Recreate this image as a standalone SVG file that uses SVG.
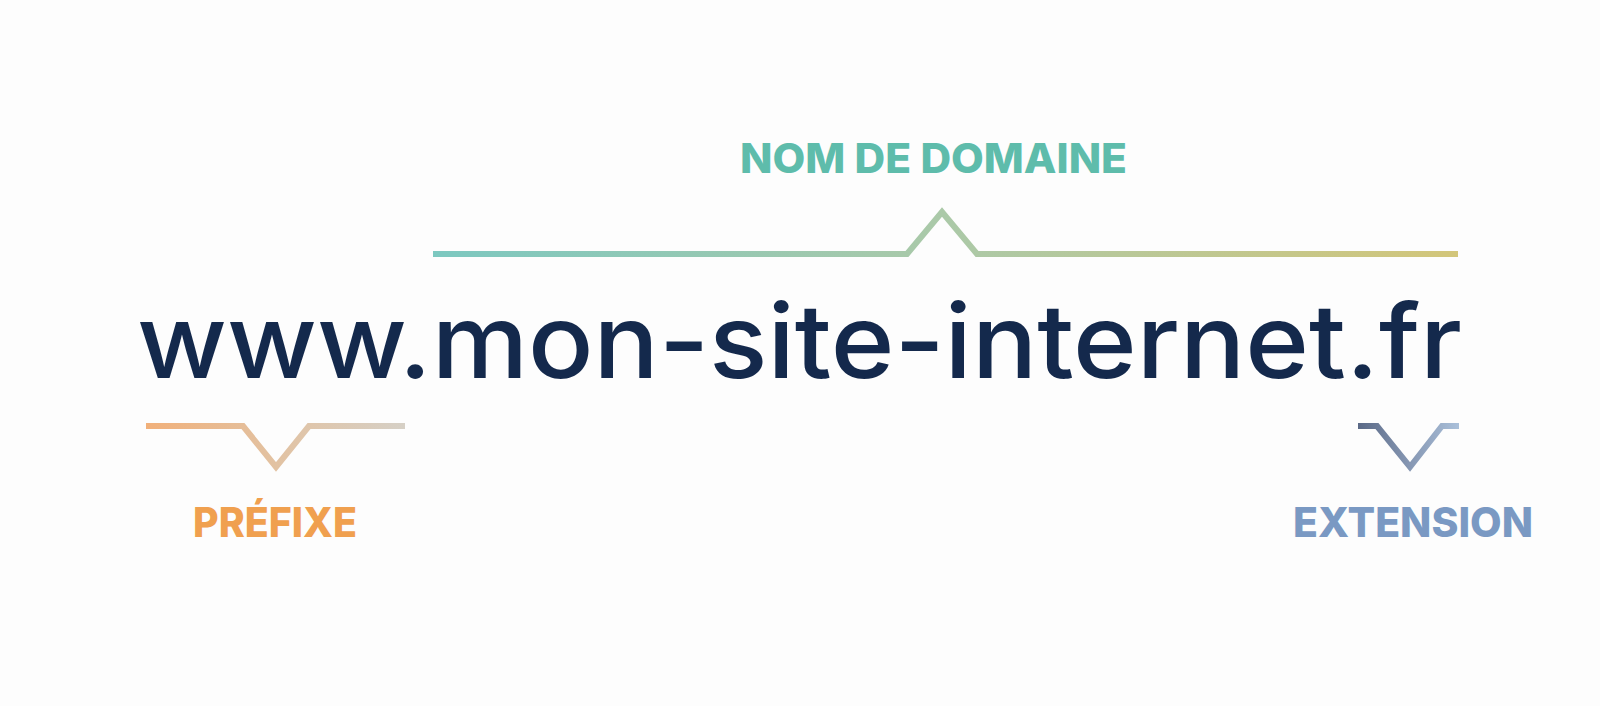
<svg xmlns="http://www.w3.org/2000/svg" width="1600" height="706" viewBox="0 0 1600 706">
  <style>
    .label { font-family: Inter, "Open Sans", "Liberation Sans", sans-serif; font-weight: 800; font-size: 41px; }
    .url { font-family: Inter, "Open Sans", "Liberation Sans", sans-serif; font-weight: 500; font-size: 103px; fill: #14294c; }
    .brace { fill: none; stroke-width: 6; stroke-linejoin: miter; stroke-linecap: butt; }
  </style>
  <defs>
    <linearGradient id="gDomain" gradientUnits="userSpaceOnUse" x1="433" y1="0" x2="1458" y2="0">
      <stop offset="0" stop-color="#7cc8c0"/>
      <stop offset="0.5" stop-color="#abc9a8"/>
      <stop offset="1" stop-color="#d3c67a"/>
    </linearGradient>
    <linearGradient id="gPrefix" gradientUnits="userSpaceOnUse" x1="146" y1="0" x2="405" y2="0">
      <stop offset="0" stop-color="#f1b07a"/>
      <stop offset="0.5" stop-color="#e2c2a2"/>
      <stop offset="1" stop-color="#d6d0c6"/>
    </linearGradient>
    <linearGradient id="gExt" gradientUnits="userSpaceOnUse" x1="1358" y1="0" x2="1459" y2="0">
      <stop offset="0" stop-color="#5a6986"/>
      <stop offset="0.5" stop-color="#8596b2"/>
      <stop offset="1" stop-color="#aac0da"/>
    </linearGradient>
  </defs>
  <rect width="1600" height="706" fill="#fdfdfd"/>

  <g id="connectors">
    <path class="brace" stroke="url(#gDomain)" d="M433 254 H907 L942 212 L977 254 H1458"/>
    <path class="brace" stroke="url(#gPrefix)" d="M146 426 H243 L276 467 L309 426 H405"/>
    <path class="brace" stroke="url(#gExt)" d="M1358 426 H1377 L1410 467 L1442 426 H1459"/>
  </g>

  <g id="url">
    <text class="url" x="137" y="378" textLength="1325" lengthAdjust="spacingAndGlyphs">www.mon-site-internet.fr</text>
  </g>

  <g id="nom-de-domaine">
    <text class="label" x="740" y="173" fill="#5ebcab" textLength="387" lengthAdjust="spacingAndGlyphs">NOM DE DOMAINE</text>
  </g>

  <g id="prefixe">
    <text class="label" x="193" y="537" fill="#f0a04f" textLength="164" lengthAdjust="spacingAndGlyphs">PRÉFIXE</text>
  </g>

  <g id="extension">
    <text class="label" x="1293" y="537" fill="#7a99c3" textLength="240" lengthAdjust="spacingAndGlyphs">EXTENSION</text>
  </g>
</svg>
